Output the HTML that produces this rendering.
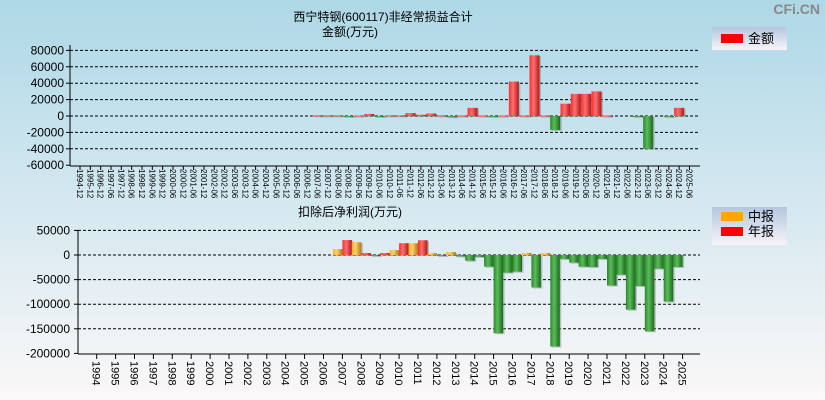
<!DOCTYPE html>
<html><head><meta charset="utf-8">
<style>
html,body{margin:0;padding:0;width:825px;height:400px;overflow:hidden}
svg{display:block;font-family:"Liberation Sans","Noto Sans CJK SC",sans-serif}
</style></head>
<body>
<svg id="c" width="825" height="400" viewBox="0 0 825 400">
<defs>
<linearGradient id="bg" x1="0" y1="0" x2="0" y2="1">
<stop offset="0" stop-color="#aed8e6"/><stop offset="0.5" stop-color="#d4e8f0"/><stop offset="1" stop-color="#fbf8f8"/></linearGradient>
<linearGradient id="lg" x1="0" y1="0" x2="0" y2="1"><stop offset="0" stop-color="#b4c6e0"/><stop offset="1" stop-color="#f6f4f8"/></linearGradient>
<linearGradient id="gr" x1="0" x2="1"><stop offset="0" stop-color="#ff2a2a"/><stop offset="0.4" stop-color="#ff7070"/><stop offset="1" stop-color="#b01818"/></linearGradient>
<linearGradient id="gg" x1="0" x2="1"><stop offset="0" stop-color="#2a8a2a"/><stop offset="0.4" stop-color="#5cbc5c"/><stop offset="1" stop-color="#1a6a1a"/></linearGradient>
<linearGradient id="go" x1="0" x2="1"><stop offset="0" stop-color="#ffb020"/><stop offset="0.4" stop-color="#ffd070"/><stop offset="1" stop-color="#b07810"/></linearGradient>
</defs>
<rect width="825" height="400" fill="url(#bg)"/>
<text x="820" y="14" text-anchor="end" font-size="14" font-weight="bold" fill="#888">CFi.CN</text>
<text x="383" y="21" text-anchor="middle" font-size="12">西宁特钢(600117)非经常损益合计</text>
<text x="350" y="36" text-anchor="middle" font-size="12">金额(万元)</text>
<text x="350" y="216" text-anchor="middle" font-size="12">扣除后净利润(万元)</text>
<g>
<rect x="712" y="27" width="75" height="23" fill="url(#lg)"/>
<rect x="721" y="34" width="22" height="9" fill="#f00"/>
<text x="748" y="43" font-size="13">金额</text></g>
<g>
<rect x="712" y="207" width="75" height="38" fill="url(#lg)"/>
<rect x="721" y="212" width="22" height="9" fill="#ffa500"/>
<text x="748" y="221" font-size="13">中报</text>
<rect x="721" y="227" width="22" height="9" fill="#f00"/>
<text x="748" y="236" font-size="13">年报</text></g>
<g id="top"></g><g id="bot"></g>
</svg>
<script>
const topCats=["1994-12","1995-12","1996-12"];
for(let y=1997;y<=2025;y++){topCats.push(y+"-06");if(y<2025)topCats.push(y+"-12");}
const topValues=[0,0,0,0,0,0,0,0,0,0,0,0,0,0,0,0,0,0,0,0,0,0,0,
800,800,800,-1000,500,2500,-1000,800,800,
3500,1500,3000,800,-1500,500,10000,500,-500,500,42000,500,74000,500,-17000,15000,27000,27000,30000,500,0,0,-500,-40000,0,-500,10000,0];
const topTicks=[80000,60000,40000,20000,0,-20000,-40000,-60000];
const botYears=[];for(let y=1994;y<=2025;y++)botYears.push(y);
const botMid={2007:12000,2008:26000,2009:-1000,2010:10000,2011:24000,2012:4000,2013:6000,2014:-11500,2015:-23700,2016:-35800,2017:4000,2018:4000,2019:-8000,2020:-23700,2021:-8000,2022:-40000,2023:-63000,2024:-27700,2025:-24300};
const botAnnual={2007:30400,2008:4000,2009:4000,2010:24000,2011:30000,2012:-500,2013:-3000,2014:-4000,2015:-159000,2016:-33800,2017:-66000,2018:-186000,2019:-15500,2020:-24300,2021:-62000,2022:-111000,2023:-155000,2024:-94600};
const botTicks=[50000,0,-50000,-100000,-150000,-200000];
const NS="http://www.w3.org/2000/svg";
function mk(p,t,a,txt){const e=document.createElementNS(NS,t);for(const k in a)e.setAttribute(k,a[k]);if(txt!=null)e.textContent=txt;p.appendChild(e);return e;}
// top chart
const T=document.getElementById('top');
const tY=v=>116-(v/20000)*16.4, tX=i=>80+i*10.33;
topTicks.forEach(v=>{
 const y=tY(v);
 if(v!==-60000){const l=mk(T,'line',{x1:70,x2:700,y1:y,y2:y,stroke:'#000','stroke-dasharray':'3,2'});
 
 }
 mk(T,'line',{x1:66,x2:70,y1:y,y2:y,stroke:'#000'});
 const t=mk(T,'text',{x:64,y:y+4,'text-anchor':'end','font-size':12},String(v));
 
 
});
topValues.forEach((v,i)=>{
 if(!v)return;const x=tX(i)-5,y0=tY(0),y1=tY(v);
 mk(T,'rect',{x:x+1.5,y:Math.min(y0,y1)+1,width:10,height:Math.max(1,Math.abs(y1-y0)),fill:'#888',opacity:0.5});
 const r=mk(T,'rect',{x:x,y:Math.min(y0,y1),width:10,height:Math.max(1,Math.abs(y1-y0)),fill:v>0?'url(#gr)':'url(#gg)'});
 
 
});
mk(T,'line',{x1:70,x2:70,y1:45,y2:166,stroke:'#000'});
mk(T,'line',{x1:70,x2:700,y1:166,y2:166,stroke:'#000'});
topCats.forEach((c,i)=>{const x=tX(i);
 mk(T,'line',{x1:x,x2:x,y1:166,y2:170,stroke:'#000'});
 const t=mk(T,'text',{x:0,y:0,'font-size':8,transform:`translate(${x-3},169) rotate(90)`},c);
 
 
});
// bottom chart
const B=document.getElementById('bot');
const bY=v=>255-(v/50000)*24.6, bX=y=>96.7+(y-1994)*18.9;
botTicks.forEach(v=>{const y=bY(v);
 if(v!==-200000){const l=mk(B,'line',{x1:78,x2:700,y1:y,y2:y,stroke:'#000','stroke-dasharray':'3,2'});
 
 }
 mk(B,'line',{x1:74,x2:78,y1:y,y2:y,stroke:'#000'});
 const t=mk(B,'text',{x:70,y:y+4,'text-anchor':'end','font-size':12},String(v));
 
 
});
function bar(v,x,col,name){const y0=bY(0),y1=bY(v);
 mk(B,'rect',{x:x+1.5,y:Math.min(y0,y1)+1,width:9.5,height:Math.max(1,Math.abs(y1-y0)),fill:'#888',opacity:0.5});
 const r=mk(B,'rect',{x:x,y:Math.min(y0,y1),width:9.5,height:Math.max(1,Math.abs(y1-y0)),fill:v<0?'url(#gg)':col});
 
 }
botYears.forEach(y=>{const c=bX(y);
 if(botMid[y]!=null)bar(botMid[y],c-9.5,'url(#go)','interim-bar');
 if(botAnnual[y]!=null)bar(botAnnual[y],c,'url(#gr)','annual-bar');
});
mk(B,'line',{x1:78,x2:78,y1:230,y2:354,stroke:'#000'});
mk(B,'line',{x1:78,x2:700,y1:354,y2:354,stroke:'#000'});
botYears.forEach(y=>{const x=bX(y);
 mk(B,'line',{x1:x,x2:x,y1:354,y2:359,stroke:'#000'});
 const t=mk(B,'text',{x:0,y:0,'font-size':11,transform:`translate(${x-4},361) rotate(90)`},String(y));
 
 
});
</script>
</body></html>
